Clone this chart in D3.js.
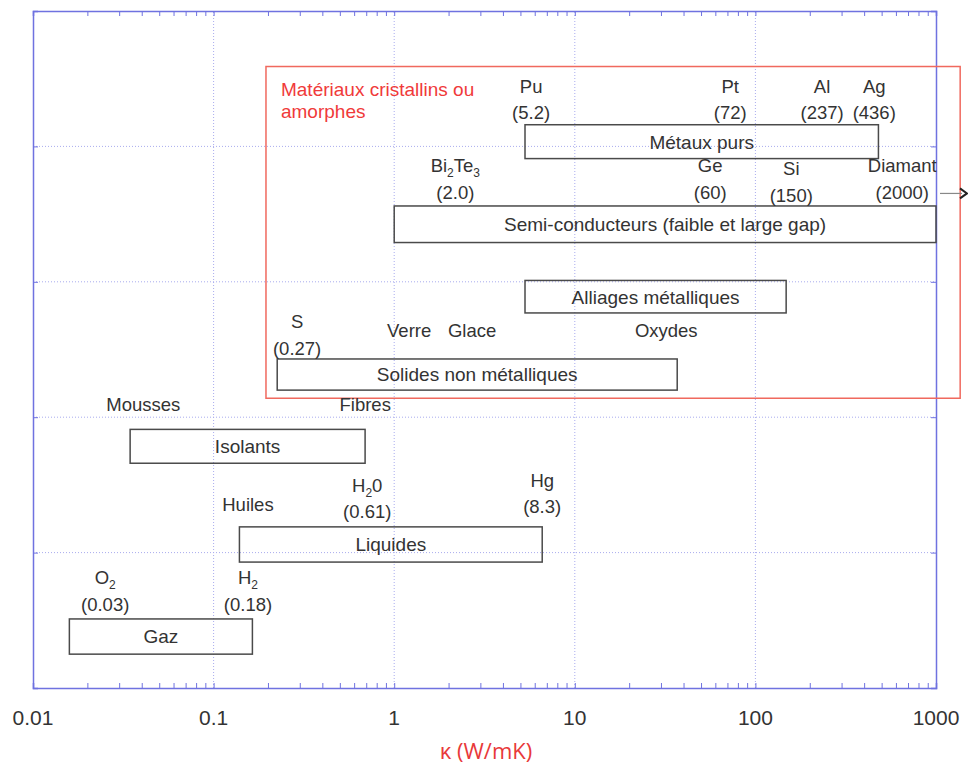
<!DOCTYPE html>
<html>
<head>
<meta charset="utf-8">
<script src="https://cdn.jsdelivr.net/npm/d3@7"></script>
<style>
  body { margin: 0; background: #fff; }
  svg { font-family: "Liberation Sans", Arial, sans-serif; }
</style>
</head>
<body>
<svg id="chart" width="968" height="775"></svg>
<script>
// material classes (boxes)
var classes = ["Gaz", "Liquides", "Isolants", "Solides non métalliques",
  "Alliages métalliques", "Semi-conducteurs (faible et large gap)", "Métaux purs"];
var kMin = [0.0159, 0.139, 0.0345, 0.225, 5.3, 1.0, 5.3];
var kMax = [0.164, 6.6, 0.69, 36.9, 148, 1000, 480];
var rowLo = [0.25, 0.93, 1.66, 2.20, 2.77, 3.29, 3.91];
var rowHi = [0.51, 1.19, 1.91, 2.43, 3.01, 3.56, 4.16];

// individual materials
var matNames = ["O_2", "H_2", "Huiles", "H_20", "Hg", "Mousses", "Fibres", "S", "Verre", "Glace",
  "Oxydes", "Bi_2Te_3", "Ge", "Si", "Diamant", "Pu", "Pt", "Al", "Ag"];
var matValues = ["(0.03)", "(0.18)", null, "(0.61)", "(8.3)", null, null, "(0.27)", null, null,
  null, "(2.0)", "(60)", "(150)", "(2000)", "(5.2)", "(72)", "(237)", "(436)"];
var matK = [0.0251, 0.155, 0.155, 0.709, 6.60, 0.0408, 0.691, 0.29, 1.21, 2.70,
  32.1, 2.18, 56.2, 158, 650, 5.73, 72.5, 234, 455];
var matRow = [0.62, 0.62, 1.315, 1.30, 1.34, 2.06, 2.06, 2.51, 2.60, 2.60,
  2.60, 3.66, 3.66, 3.64, 3.66, 4.25, 4.25, 4.25, 4.25];

// group of crystalline / amorphous materials
var groupTitle = ["Matériaux cristallins ou", "amorphes"];
var groupK = [0.195, 1361];
var groupRow = [2.14, 4.59];

var tickValues = [0.01, 0.1, 1, 10, 100, 1000];
var tickLabels = ["0.01", "0.1", "1", "10", "100", "1000"];
var xTitle = "κ (W/mK)";

var svg = d3.select("#chart");
var x = d3.scaleLog().domain([0.01, 1000]).range([33, 936]);
var y = d3.scaleLinear().domain([0, 5]).range([688, 11]);

var axisColor = "#6f72e0";
var gridColor = "#a9acee";
var textColor = "#333";

// grid
var grid = svg.append("g").attr("class", "grid");
grid.selectAll("line.vx")
    .data(tickValues.slice(1, -1))
  .enter().append("line")
    .attr("x1", function (d) { return x(d); })
    .attr("x2", function (d) { return x(d); })
    .attr("y1", y(0)).attr("y2", y(5))
    .attr("stroke", gridColor).attr("stroke-dasharray", "1,2");
grid.selectAll("line.hy")
    .data([1, 2, 3, 4])
  .enter().append("line")
    .attr("y1", function (d) { return y(d); })
    .attr("y2", function (d) { return y(d); })
    .attr("x1", x(0.01)).attr("x2", x(1000))
    .attr("stroke", gridColor).attr("stroke-dasharray", "1,2");

// axes (frame with inner ticks)
var minor = [];
tickValues.slice(0, -1).forEach(function (d) {
  for (var i = 2; i < 10; i++) minor.push(d * i);
});
var axBottom = d3.axisBottom(x).tickValues(tickValues.concat(minor))
    .tickSize(-5).tickFormat("");
var axTop = d3.axisTop(x).tickValues(tickValues.concat(minor))
    .tickSize(-5).tickFormat("");
var axLeft = d3.axisLeft(y).tickValues([0, 1, 2, 3, 4, 5]).tickSize(-5).tickFormat("");
var axRight = d3.axisRight(y).tickValues([0, 1, 2, 3, 4, 5]).tickSize(-5).tickFormat("");

[[axBottom, "translate(0," + y(0) + ")"], [axTop, "translate(0," + y(5) + ")"],
 [axLeft, "translate(" + x(0.01) + ",0)"], [axRight, "translate(" + x(1000) + ",0)"]]
  .forEach(function (a) {
    var g = svg.append("g").attr("transform", a[1]).call(a[0]);
    g.select(".domain").attr("stroke", axisColor).attr("stroke-width", 1.5);
    g.selectAll(".tick line").attr("stroke", axisColor);
  });

// tick labels
svg.append("g").selectAll("text")
    .data(tickValues)
  .enter().append("text")
    .attr("x", function (d) { return x(d); })
    .attr("y", y(0) + 37)
    .attr("text-anchor", "middle")
    .attr("font-size", 21)
    .attr("fill", textColor)
    .text(function (d, i) { return tickLabels[i]; });

svg.append("text")
    .attr("x", 486)
    .attr("y", 759)
    .attr("text-anchor", "middle")
    .attr("font-family", "'Open Sans', sans-serif")
    .attr("font-size", 22)
    .attr("fill", "#e8393a")
    .text(xTitle);

// red group box
svg.append("rect")
    .attr("x", x(groupK[0]))
    .attr("y", y(groupRow[1]))
    .attr("width", x(groupK[1]) - x(groupK[0]))
    .attr("height", y(groupRow[0]) - y(groupRow[1]))
    .attr("fill", "none")
    .attr("stroke", "#f0695e")
    .attr("stroke-width", 1.5);

svg.append("text")
    .attr("y", y(groupRow[1]) + 29)
    .attr("font-size", 19)
    .attr("fill", "#f03a3a")
  .selectAll("tspan")
    .data(groupTitle)
  .enter().append("tspan")
    .attr("x", x(groupK[0]) + 15)
    .attr("dy", function (d, i) { return i ? 22 : 0; })
    .text(function (d) { return d; });

// class boxes
var boxes = svg.append("g").selectAll("g")
    .data(classes)
  .enter().append("g");
boxes.append("rect")
    .attr("x", function (d, i) { return x(kMin[i]); })
    .attr("y", function (d, i) { return y(rowHi[i]); })
    .attr("width", function (d, i) { return x(kMax[i]) - x(kMin[i]); })
    .attr("height", function (d, i) { return y(rowLo[i]) - y(rowHi[i]); })
    .attr("fill", "none")
    .attr("stroke", "#4a4a4a")
    .attr("stroke-width", 1.5);
boxes.append("text")
    .attr("x", function (d, i) { return (x(kMin[i]) + x(kMax[i])) / 2; })
    .attr("y", function (d, i) { return y((rowLo[i] + rowHi[i]) / 2); })
    .attr("dy", "0.36em")
    .attr("text-anchor", "middle")
    .attr("font-size", 19)
    .attr("fill", textColor)
    .text(function (d) { return d; });

// material labels, "_n" marks a subscript
function addName(sel, name) {
  name.split(/(_\d)/).forEach(function (part) {
    if (!part) return;
    if (part[0] === "_") {
      sel.append("tspan").attr("font-size", 12).attr("dy", 5).text(part.slice(1));
    } else {
      sel.append("tspan").attr("dy", sel.selectAll("tspan").size() ? -5 : 0).text(part);
    }
  });
}

var mats = svg.append("g").selectAll("g")
    .data(matNames)
  .enter().append("g")
    .attr("font-size", 18.5)
    .attr("fill", textColor)
    .attr("text-anchor", "middle");
mats.each(function (d, i) {
  var g = d3.select(this);
  var cx = x(matK[i]), cy = y(matRow[i]);
  var nameY = matValues[i] ? cy - 21.5 : cy;
  addName(g.append("text").attr("x", cx).attr("y", nameY + 6.5), d);
  if (matValues[i]) {
    g.append("text").attr("x", cx).attr("y", cy + 6.5).text(matValues[i]);
  }
});

// arrow: diamond goes beyond the axis
var iDia = matNames.indexOf("Diamant");
var ay = y(matRow[iDia]) + 1;
svg.append("line")
    .attr("x1", x(1000) + 4).attr("x2", 962)
    .attr("y1", ay).attr("y2", ay)
    .attr("stroke", "#888").attr("stroke-width", 1.2);
svg.append("path")
    .attr("d", "M960," + (ay - 5) + "L967," + ay + "L960," + (ay + 5))
    .attr("fill", "none").attr("stroke", "#222").attr("stroke-width", 2);
</script>
</body>
</html>
